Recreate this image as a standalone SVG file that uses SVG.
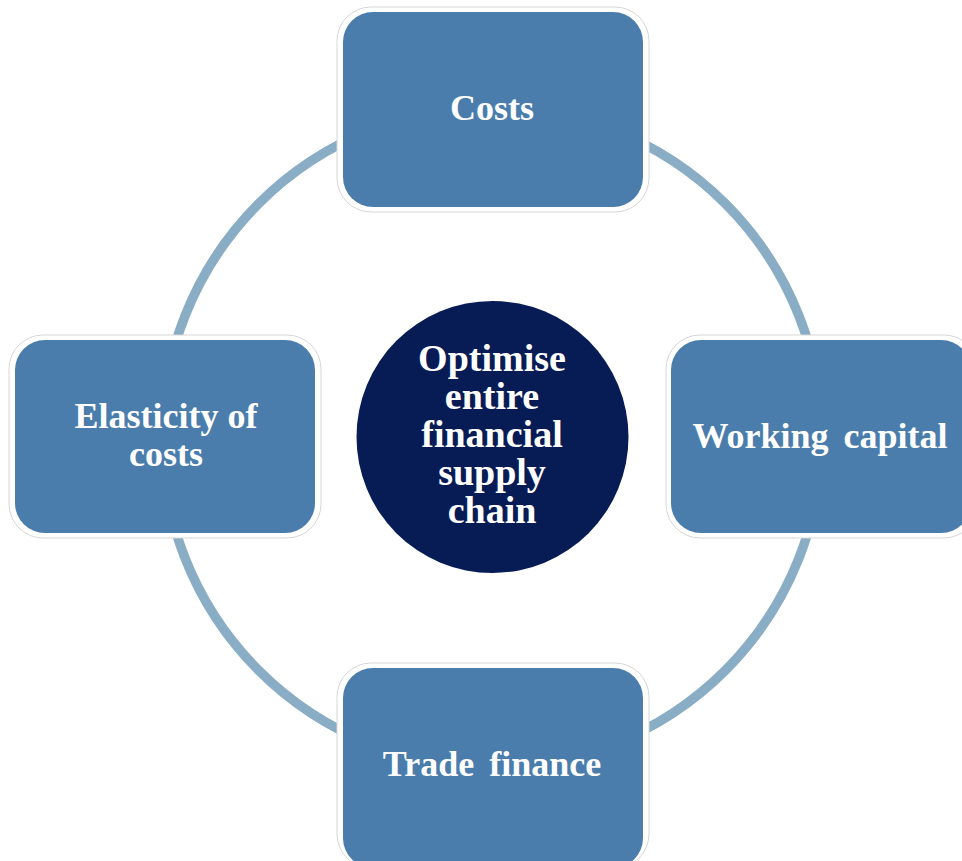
<svg xmlns="http://www.w3.org/2000/svg" width="962" height="861" viewBox="0 0 962 861">
  <style>
    .outer { fill: #ffffff; stroke: #d6d6d6; stroke-width: 1; }
    .box { fill: #4a7dac; }
    .lbl { font-family: "Liberation Serif", "Times New Roman", serif; font-weight: bold; font-size: 36px; fill: #ffffff; text-anchor: middle; }
    .ctr { font-size: 38px; }
  </style>
  <rect width="962" height="861" fill="#ffffff"/>
  <g id="connectors">
    <circle cx="492" cy="437" r="330" fill="none" stroke="#8aadc6" stroke-width="9.5"/>
  </g>
  <g id="node-costs">
    <rect class="outer" x="337" y="7" width="312" height="205" rx="34"/>
    <rect class="box" x="343" y="12" width="300" height="195" rx="30"/>
    <text class="lbl" x="492" y="120">Costs</text>
  </g>
  <g id="node-elasticity">
    <rect class="outer" x="9" y="335" width="312" height="203" rx="34"/>
    <rect class="box" x="15" y="340" width="300" height="193" rx="30"/>
    <text class="lbl" x="166" y="428">Elasticity of</text>
    <text class="lbl" x="166" y="466">costs</text>
  </g>
  <g id="node-working-capital">
    <rect class="outer" x="666" y="335" width="312" height="203" rx="34"/>
    <rect class="box" x="671" y="340" width="300" height="193" rx="30"/>
    <text class="lbl" x="820" y="448" word-spacing="6">Working capital</text>
  </g>
  <g id="node-trade-finance">
    <rect class="outer" x="337" y="663" width="312" height="205" rx="34"/>
    <rect class="box" x="343" y="668" width="300" height="200" rx="30"/>
    <text class="lbl" x="492" y="776" word-spacing="6">Trade finance</text>
  </g>
  <g id="node-center">
    <circle cx="492.5" cy="437" r="136" fill="#071c55"/>
    <text class="lbl ctr" x="492" y="371">Optimise</text>
    <text class="lbl ctr" x="492" y="409">entire</text>
    <text class="lbl ctr" x="492" y="447">financial</text>
    <text class="lbl ctr" x="492" y="485">supply</text>
    <text class="lbl ctr" x="492" y="523">chain</text>
  </g>
</svg>
